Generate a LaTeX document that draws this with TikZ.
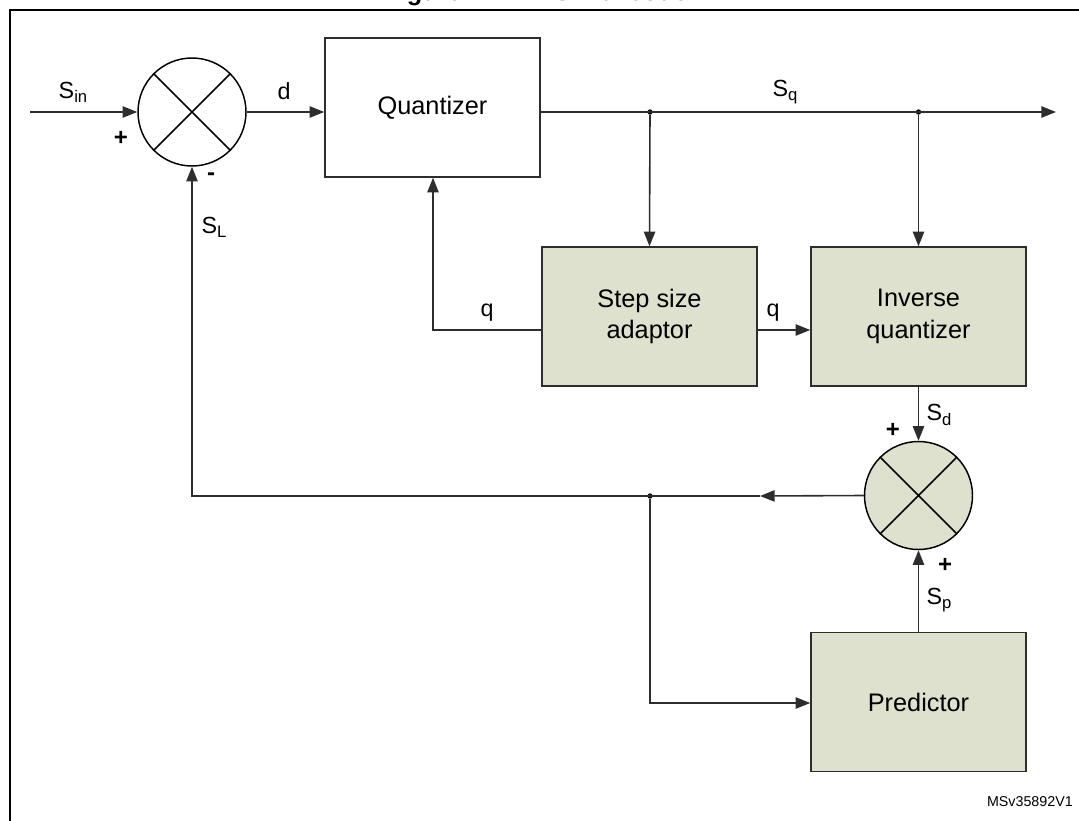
\documentclass[tikz,border=0pt]{standalone}
\usepackage{fontspec}
\setmainfont{Liberation Sans}
\usetikzlibrary{arrows.meta}
\definecolor{boxfill}{RGB}{222,225,206}
\definecolor{linec}{RGB}{45,45,45}
\newcommand{\mysub}[1]{\raisebox{-0.18em}{\fontsize{12.5}{13}\selectfont #1}}
\begin{document}
\begin{tikzpicture}[x=0.75pt,y=-0.75pt,
 blk/.style={draw=linec, line width=1.1pt, minimum width=161.25pt, minimum height=104.25pt, inner sep=0pt, align=center, font=\fontsize{19}{23.5}\selectfont},
 gblk/.style={blk, fill=boxfill},
 sumc/.style={circle, draw=black, line width=1.1pt, minimum size=81pt, inner sep=0pt},
 wire/.style={draw=linec, line width=1.2pt},
 arr/.style={wire, -{Triangle[length=11pt,width=8.5pt]}},
 lbl/.style={font=\fontsize{17.5}{20}\selectfont, inner sep=0pt},
 sgn/.style={font=\bfseries\fontsize{18}{20}\selectfont, inner sep=0pt},
 dotn/.style={circle, fill=black, inner sep=0pt, minimum size=4pt}]
\useasboundingbox (0,0) rectangle (1079,821);
\clip (0,0) rectangle (1079,821);
% title (cut by the top edge, as in the reference)
\node[font=\bfseries\fontsize{19}{22}\selectfont, anchor=base, inner sep=0pt] (title) at (541,1) {Figure 2. ADPCM encoder};
% frame
\draw[line width=1.5pt] (10,821) -- (10,10) -- (1079,10);
% nodes
\node[sumc, fill=white] (s1) at (192,112) {};
\node[blk] (quant) at (432.5,107.5) {Quantizer};
\node[gblk] (step) at (649.5,316.5) {Step size\\adaptor};
\node[gblk] (inv) at (918.5,316.5) {Inverse\\quantizer};
\node[sumc, fill=boxfill] (s2) at (918.5,495.5) {};
\node[gblk] (pred) at (918.5,702) {Predictor};
% crosses in summing junctions
\draw[line width=1.1pt] (s1.45) -- (s1.225) (s1.135) -- (s1.315);
\draw[line width=1.1pt] (s2.45) -- (s2.225) (s2.135) -- (s2.315);
% coordinates
\coordinate (in) at (30,112);
\coordinate (out) at (1056,112);
\coordinate (qa) at (433,330);
\coordinate (fb) at (192,496);
\coordinate (mid) at (760,496);
\coordinate (pa) at (650,703);
\node[dotn] (j1) at (650,112) {};
\node[dotn] (j2) at (918.5,112) {};
\node[dotn] (j3) at (650,496) {};
% connectors
\draw[arr] (in) -- (s1.west);
\draw[arr] (s1.east) -- (quant.west |- s1.east);
\draw[arr] (quant.east |- out) -- (out);
\draw[arr] (j1) -- (step.north);
\draw[arr] (j2) -- (inv.north);
\draw[arr] (step.west |- qa) -- (qa) -- (quant.south -| qa);
\draw[arr] (step.east |- qa) -- (inv.west |- qa);
\draw[arr] (inv.south) -- (s2.north);
\draw[arr] (pred.north) -- (s2.south);
\draw[arr] (s2.west) -- (mid);
\draw[arr] (mid) -- (fb) -- (s1.south);
\draw[arr] (j3) -- (pa) -- (pred.west |- pa);
% labels
\node[lbl] (lsin) at (73,92) {S\mysub{in}};
\node[sgn] (lp1) at (121,138) {+};
\node[sgn] (lm1) at (211,177) {-};
\node[lbl] (lsl) at (214,227) {S\mysub{L}};
\node[lbl] (ld) at (284,91) {d};
\node[lbl] (lsq) at (785,92) {S\mysub{q}};
\node[lbl] (lq1) at (487,313) {q};
\node[lbl] (lq2) at (773,313) {q};
\node[lbl] (lsd) at (939,415) {S\mysub{d}};
\node[sgn] (lp2) at (893,430) {+};
\node[sgn] (lp3) at (945,565) {+};
\node[lbl] (lsp) at (939,600) {S\mysub{p}};
\node[font=\fontsize{10.7}{12}\selectfont, anchor=east, inner sep=0pt] (id) at (1073,802) {MSv35892V1};
\end{tikzpicture}
\end{document}
